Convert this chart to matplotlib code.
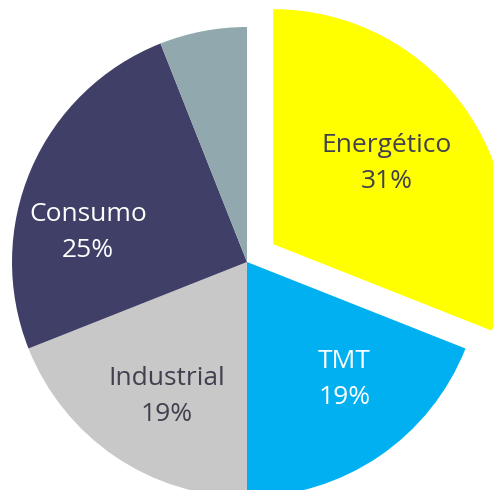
import matplotlib
matplotlib.use("Agg")
import matplotlib.pyplot as plt

# sector shares (%), clockwise from 12 o'clock
sectors = ["Energético", "TMT", "Industrial", "Consumo", "Otros"]
shares = [31, 19, 19, 25, 6]
colours = ["#FFFF00", "#00B0F0", "#C8C8C8", "#3F3F68", "#91A9AE"]
explode = [0.135, 0, 0, 0, 0]
show_label = [True, True, True, True, False]
label_colours = ["#40404F", "#FFFFFF", "#40404F", "#FFFFFF", "#40404F"]
# small nudges of each label away from its default pie position (data units)
label_nudge = [(-0.047, -0.017), (0.055, 0.030), (0.017, -0.043), (-0.09, -0.128), (0, 0)]


def main():
  fig = plt.figure(figsize=(4.93, 4.90), dpi=100)
  ax = fig.add_axes([0, 0, 1, 1])

  wedges, texts, autotexts = ax.pie(shares, colors=colours, explode=explode,
                                    startangle=90, counterclock=False,
                                    autopct="%1.0f%%", pctdistance=0.64,
                                    wedgeprops=dict(linewidth=0))

  for i, t in enumerate(autotexts):
    if show_label[i]:
      x, y = t.get_position()
      t.set_position((x + label_nudge[i][0], y + label_nudge[i][1]))
      t.set_text("%s\n%d%%" % (sectors[i], shares[i]))
      t.set(color=label_colours[i], fontsize=19, family=["Open Sans", "DejaVu Sans"],
            linespacing=1.6, ha="center", va="center")
    else:
      t.set_visible(False)

  # 235 px per data unit, pie centre at (247, 262) from the top-left
  ax.set_xlim(-247 / 235, (493 - 247) / 235)
  ax.set_ylim(-(490 - 262) / 235, 262 / 235)
  ax.set_aspect("auto")
  ax.axis("off")

  fig.savefig("out.png", dpi=100)


if __name__ == "__main__":
  main()
